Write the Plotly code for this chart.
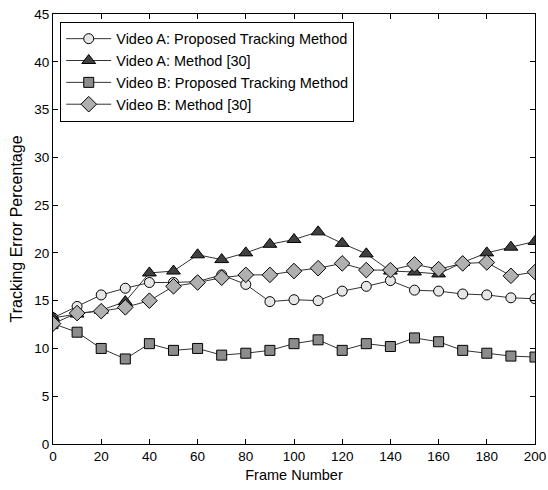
import plotly.graph_objects as go

frames = [0, 10, 20, 30, 40, 50, 60, 70, 80, 90, 100, 110, 120, 130, 140, 150, 160, 170, 180, 190, 200]

video_a_proposed = [13.2, 14.4, 15.6, 16.3, 16.9, 16.9, 17.0, 17.7, 16.7, 14.9, 15.1, 15.0, 16.0, 16.5, 17.1, 16.1, 16.0, 15.7, 15.6, 15.3, 15.2]
video_a_method30 = [13.2, 13.6, 14.0, 14.9, 17.9, 18.1, 19.8, 19.3, 20.0, 20.9, 21.4, 22.2, 21.0, 19.9, 18.1, 18.0, 17.8, 19.0, 20.0, 20.6, 21.2]
video_b_proposed = [12.6, 11.7, 10.0, 8.9, 10.5, 9.8, 10.0, 9.3, 9.5, 9.8, 10.5, 10.9, 9.8, 10.5, 10.2, 11.1, 10.7, 9.8, 9.5, 9.2, 9.1]
video_b_method30 = [12.6, 13.7, 13.9, 14.3, 15.0, 16.5, 16.9, 17.4, 17.7, 17.7, 18.1, 18.4, 18.9, 18.2, 18.2, 18.8, 18.3, 18.9, 19.0, 17.6, 18.0]

names = ["Video A: Proposed Tracking Method", "Video A: Method [30]",
         "Video B: Proposed Tracking Method", "Video B: Method [30]"]
series = [video_a_proposed, video_a_method30, video_b_proposed, video_b_method30]
symbols = ["circle", "triangle-up", "square", "diamond"]
fills = ["#e6e6e6", "#404040", "#8c8c8c", "#b0b0b0"]
sizes = [10, 12, 10, 12]

x_ticks = list(range(0, 201, 20))
y_ticks = list(range(0, 46, 5))

fig = go.Figure()
for i, (nm, ys) in enumerate(zip(names, series)):
    fig.add_trace(go.Scatter(
        x=frames, y=ys, name=nm, mode="lines+markers",
        legendgroup=str(i),
        line=dict(color="#333333", width=1),
        marker=dict(symbol=symbols[i], size=sizes[i], color=fills[i],
                    line=dict(color="#000000", width=1)),
    ))

axis_common = dict(
    showgrid=False, zeroline=False, showline=True, linecolor="black", linewidth=1,
    mirror="ticks", ticks="inside", ticklen=5, tickcolor="black", automargin=False,
    tickfont=dict(family="Liberation Sans, Arial", size=13.5, color="black"),
)

fig.update_layout(
    width=548, height=490,
    margin=dict(l=53, r=13, t=14, b=46),
    paper_bgcolor="white", plot_bgcolor="white",
    font=dict(family="Liberation Sans, Arial", size=14, color="black"),
    xaxis=dict(range=[0, 200], tickvals=x_ticks, title=dict(text="Frame Number", standoff=6,
               font=dict(size=14.5)), **axis_common),
    yaxis=dict(range=[0, 45], tickvals=y_ticks, title=dict(text="Tracking Error Percentage", standoff=7,
               font=dict(size=16)), **axis_common),
    legend=dict(x=0.015, y=0.982, xanchor="left", yanchor="top",
                bordercolor="black", borderwidth=1, bgcolor="white",
                font=dict(size=14.5), traceorder="grouped", tracegroupgap=0,
                itemwidth=45),
    showlegend=True,
)

fig.write_html("out.html", config={"displayModeBar": False},
               post_script="document.body.style.margin='0px';document.body.style.padding='0px';")
